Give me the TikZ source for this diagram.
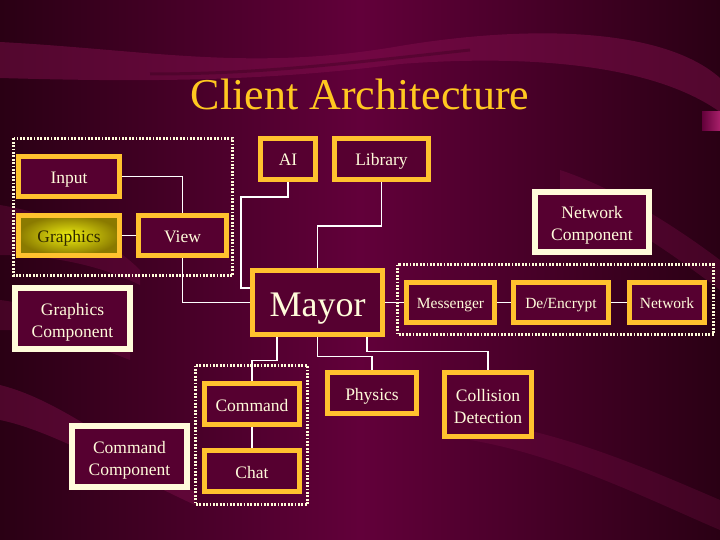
\documentclass[tikz,border=0pt]{standalone}
\usepackage{fontspec}
\setmainfont{Liberation Serif}
\pgfdeclarelayer{bgl}
\pgfdeclarelayer{lines}
\pgfsetlayers{bgl,lines,main}
\definecolor{bgmid}{HTML}{62003A}
\definecolor{bgdark}{HTML}{2A0014}
\definecolor{swoosh}{HTML}{85104F}
\definecolor{boxyellow}{HTML}{FFC22E}
\definecolor{boxfill}{HTML}{560030}
\definecolor{cream}{HTML}{FFFBDA}
\definecolor{titlecol}{HTML}{FFC820}
\definecolor{gyellow}{HTML}{EEEE10}
\definecolor{golive}{HTML}{8A7A00}
\definecolor{gtext}{HTML}{302800}
\definecolor{pinkblock}{HTML}{A8206A}
\newcommand{\twoline}[2]{\raisebox{0pt}[\dimexpr\height+6.5pt\relax][\depth]{\begin{tabular}{@{}c@{}}#1\\#2\end{tabular}}}
\tikzset{
  ybox/.style={draw=boxyellow, line width=5pt, fill=boxfill, text=cream,
    inner sep=0pt, align=center, font=\fontsize{17.5}{22}\selectfont},
  onel/.style={text height=13.5pt, text depth=0pt},
  smallbox/.style={ybox, onel, text height=11pt, font=\fontsize{15.5}{19}\selectfont},
  cbox/.style={draw=cream, line width=6pt, fill=boxfill, text=cream,
    inner sep=0pt, align=center, font=\fontsize{17.5}{22}\selectfont},
  grp/.style={draw=cream, line width=3pt, dash pattern=on 1.8pt off 1.6pt},
  conn/.style={draw=white, line width=1.2pt}
}
\begin{document}
\begin{tikzpicture}[x=1pt,y=-1pt]
\begin{pgfonlayer}{bgl}
\shade[left color=bgdark, right color=bgdark, middle color=bgmid] (0,0) rectangle (720,540);
\useasboundingbox (0,0) rectangle (720,540);
% upper swoosh
\fill[swoosh, opacity=0.45] (0,42) .. controls (150,50) and (250,72) .. (400,46)
  .. controls (520,26) and (660,25) .. (720,78) -- (720,112)
  .. controls (650,62) and (520,55) .. (400,64)
  .. controls (260,82) and (140,82) .. (0,78) -- cycle;
\draw[bgdark, opacity=0.3, line width=3pt] (150,74) .. controls (260,74) and (340,64) .. (470,50);
% left swooshes
\fill[swoosh, opacity=0.3] (0,205) .. controls (60,215) and (110,240) .. (140,270)
  -- (140,285) .. controls (100,265) and (50,255) .. (0,255) -- cycle;
\fill[swoosh, opacity=0.3] (0,300) .. controls (40,305) and (80,320) .. (130,345)
  -- (130,360) .. controls (80,340) and (40,330) .. (0,330) -- cycle;
\fill[swoosh, opacity=0.4] (0,385) .. controls (60,400) and (120,450) .. (195,492)
  -- (195,505) .. controls (120,470) and (50,430) .. (0,420) -- cycle;
% right swooshes
\fill[swoosh, opacity=0.3] (560,170) .. controls (620,190) and (680,230) .. (720,260)
  -- (720,290) .. controls (680,260) and (620,215) .. (560,195) -- cycle;
\fill[swoosh, opacity=0.25] (470,420) .. controls (560,430) and (650,470) .. (720,500)
  -- (720,530) .. controls (650,500) and (560,455) .. (470,440) -- cycle;
% small pink block at right edge
\shade[left color=bgmid, right color=pinkblock] (702,112) rectangle (720,131);
\end{pgfonlayer}

% title
\node[text=titlecol, font=\fontsize{44}{50}\selectfont, anchor=base, inner sep=0pt]
  (title) at (360,110) {Client Architecture};

% groups
\draw[grp] (13.5,138.5) rectangle (232.5,275.5);
\draw[grp] (397.5,264.5) rectangle (713.5,334.5);
\draw[grp] (195.5,365.5) rectangle (307.5,504.5);

% boxes
\node[ybox, onel, minimum width=101pt, minimum height=40pt] (input) at (69,176.5) {Input};
\node[ybox, onel, minimum width=101pt, minimum height=40pt, inner color=gyellow, outer color=golive, text=gtext] (graphics) at (69,235.5) {Graphics};
\node[ybox, onel, minimum width=88pt, minimum height=40pt] (view) at (182.5,235.5) {View};
\node[ybox, onel, text height=12.5pt, minimum width=55pt, minimum height=41pt] (ai) at (288,159) {AI};
\node[ybox, onel, text height=12.5pt, minimum width=94pt, minimum height=41pt] (library) at (381.5,159) {Library};
\node[ybox, onel, text height=28pt, minimum width=130pt, minimum height=64pt, font=\fontsize{36}{40}\selectfont] (mayor) at (317.5,302.5) {Mayor};
\node[smallbox, minimum width=88pt, minimum height=40pt] (messenger) at (450.5,302.5) {Messenger};
\node[smallbox, minimum width=95pt, minimum height=40pt] (decrypt) at (561,302.5) {De/Encrypt};
\node[smallbox, minimum width=75pt, minimum height=40pt] (network) at (667,302.5) {Network};
\node[ybox, onel, text height=14pt, minimum width=95pt, minimum height=41pt] (command) at (252,404) {Command};
\node[ybox, onel, text height=14pt, minimum width=95pt, minimum height=41pt] (chat) at (252,471) {Chat};
\node[ybox, onel, text height=14pt, minimum width=89pt, minimum height=41pt] (physics) at (372,393) {Physics};
\node[ybox, minimum width=87pt, minimum height=64pt] (collision) at (488,404.5) {\twoline{Collision}{Detection}};
\node[cbox, minimum width=114pt, minimum height=60pt] (netcomp) at (592,222) {\twoline{Network}{Component}};
\node[cbox, minimum width=115pt, minimum height=61pt] (grcomp) at (72.5,318.5) {\twoline{Graphics}{Component}};
\node[cbox, minimum width=115pt, minimum height=61pt] (cmdcomp) at (129.5,456.5) {\twoline{Command}{Component}};

% connectors
\begin{pgfonlayer}{lines}
\coordinate (aibend) at (241,197);
\draw[conn] (input.east) -| (view.north);
\draw[conn] (graphics.east) -- (view.west);
\draw[conn] (view.south) |- (mayor.west);
\draw[conn] (ai.south) |- (aibend) |- ([yshift=14.5pt]mayor.west);
\draw[conn] (library.south) -- ++(0,44) -| (mayor.north);
\draw[conn] (mayor.east) -- (messenger.west);
\draw[conn] (messenger.east) -- (decrypt.west);
\draw[conn] (decrypt.east) -- (network.west);
\draw[conn] ([xshift=-40.5pt]mayor.south) -- ++(0,23.5) -| (command.north);
\draw[conn] (mayor.south) -- ++(0,19.5) -| (physics.north);
\draw[conn] ([xshift=49.5pt]mayor.south) -- ++(0,14.5) -| (collision.north);
\draw[conn] (command.south) -- (chat.north);
\end{pgfonlayer}
\end{tikzpicture}
\end{document}
